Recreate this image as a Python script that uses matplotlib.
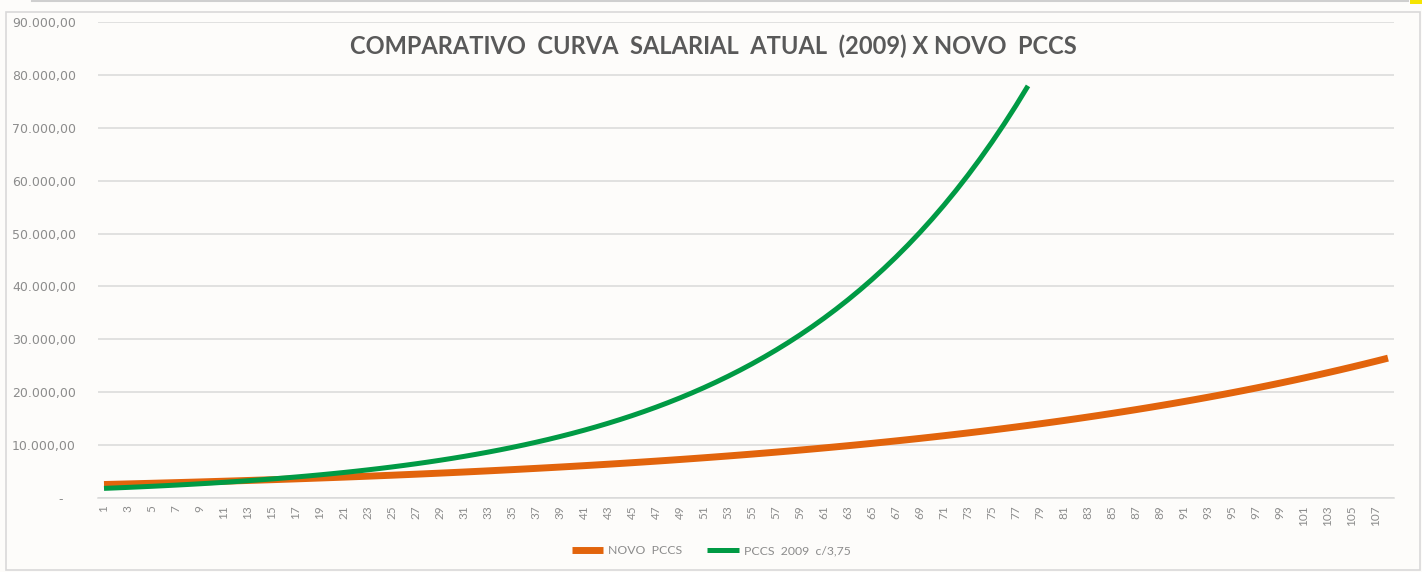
import matplotlib
matplotlib.use("Agg")
import matplotlib.pyplot as plt
from matplotlib.patches import Rectangle
from matplotlib.ticker import FuncFormatter

# Salary curves (one value per step)
novo_pccs = [
    2550, 2606, 2664, 2723, 2783, 2845, 2908, 2972, 3037, 3105,
    3173, 3243, 3315, 3388, 3463, 3540, 3618, 3698, 3780, 3863,
    3948, 4036, 4125, 4216, 4309, 4405, 4502, 4601, 4703, 4807,
    4913, 5022, 5133, 5246, 5362, 5481, 5602, 5725, 5852, 5981,
    6113, 6249, 6387, 6528, 6672, 6820, 6970, 7124, 7282, 7443,
    7607, 7775, 7947, 8123, 8302, 8486, 8673, 8865, 9061, 9261,
    9466, 9675, 9889, 10107, 10330, 10559, 10792, 11031, 11274, 11524,
    11778, 12039, 12305, 12576, 12854, 13139, 13429, 13726, 14029, 14339,
    14656, 14980, 15311, 15649, 15995, 16349, 16710, 17079, 17457, 17842,
    18237, 18640, 19052, 19473, 19903, 20343, 20793, 21252, 21722, 22202,
    22692, 23194, 23707, 24230, 24766, 25313, 25873, 26444,
]
pccs_2009 = [
    1820, 1911, 2007, 2107, 2212, 2323, 2439, 2561, 2689, 2823,
    2965, 3113, 3268, 3432, 3603, 3784, 3973, 4171, 4380, 4599,
    4829, 5070, 5324, 5590, 5870, 6163, 6471, 6795, 7135, 7491,
    7866, 8259, 8672, 9106, 9561, 10039, 10541, 11068, 11622, 12203,
    12813, 13453, 14126, 14832, 15574, 16353, 17170, 18029, 18930, 19877,
    20871, 21914, 23010, 24160, 25368, 26637, 27969, 29367, 30835, 32377,
    33996, 35696, 37481, 39355, 41322, 43389, 45558, 47836, 50228, 52739,
    55376, 58145, 61052, 64105, 67310, 70675, 74209, 77920,
]
steps = list(range(1, len(novo_pccs) + 1))
y_ticks = [0, 10000, 20000, 30000, 40000, 50000, 60000, 70000, 80000, 90000]

title = "COMPARATIVO  CURVA  SALARIAL  ATUAL  (2009) X NOVO  PCCS"
orange = "#e2640c"
green = "#009a44"
bg = "#fdfcfa"

plt.rcParams["font.family"] = ["Lato", "DejaVu Sans"]

fig = plt.figure(figsize=(14.22, 5.72), dpi=100, facecolor=bg)
ax = fig.add_axes([98 / 1422, 1 - 498 / 572, 1296 / 1422, 476 / 572], facecolor=bg)

# chart border, thin line at the very top and the small yellow corner
fig.patches.append(Rectangle((6 / 1422, 2 / 572), 1414 / 1422, 558 / 572,
                             transform=fig.transFigure, fill=False,
                             edgecolor="#d9d9d9", lw=1.2))
fig.add_artist(plt.Line2D([32 / 1422, 1 - 14 / 1422], [0.998, 0.998],
                          transform=fig.transFigure, color="#cfcfcf", lw=1.5))
fig.patches.append(Rectangle((1 - 12 / 1422, 1 - 4 / 572), 12 / 1422, 4 / 572,
                             transform=fig.transFigure, color="#f5e400", lw=0))

ax.plot(steps, novo_pccs, color=orange, lw=5.0, solid_capstyle="butt", label="NOVO  PCCS")
ax.plot(steps[:len(pccs_2009)], pccs_2009, color=green, lw=3.6,
        solid_capstyle="butt", label="PCCS  2009  c/3,75")

ax.set_xlim(0.5, len(steps) + 0.5)
ax.set_ylim(0, 90000)
ax.set_yticks(y_ticks)


def br_fmt(v, pos):
    if v == 0:
        return "-   "
    return f"{v:,.2f}".replace(",", "X").replace(".", ",").replace("X", ".")


ax.yaxis.set_major_formatter(FuncFormatter(br_fmt))
ax.set_xticks(steps[::2])
ax.set_xticklabels([str(s) for s in steps[::2]], rotation=90)
ax.tick_params(axis="y", length=0, pad=16, labelcolor="#8c8c8c")
ax.tick_params(axis="x", length=0, pad=5, labelsize=8.5, labelcolor="#8c8c8c")
for lbl in ax.get_yticklabels():
    lbl.set_family(["DejaVu Sans"])
    lbl.set_fontsize(9)

ax.grid(axis="y", color="#d9d9d9", lw=1.1)
ax.set_axisbelow(True)
for side in ["left", "right", "top"]:
    ax.spines[side].set_visible(False)
ax.spines["bottom"].set_color("#d9d9d9")
ax.spines["bottom"].set_linewidth(1.1)

fig.text(0.502, 1 - 46 / 572, title, ha="center", va="center",
         fontsize=17, fontweight="bold", color="#595959")

fig.legend(loc="center", bbox_to_anchor=(0.5, 1 - 551 / 572), ncol=2, frameon=False,
           fontsize=8.8, labelcolor="#8c8c8c", handlelength=2.6, columnspacing=2.0,
           handletextpad=0.4)

fig.savefig("out.png", dpi=100, facecolor=bg)
